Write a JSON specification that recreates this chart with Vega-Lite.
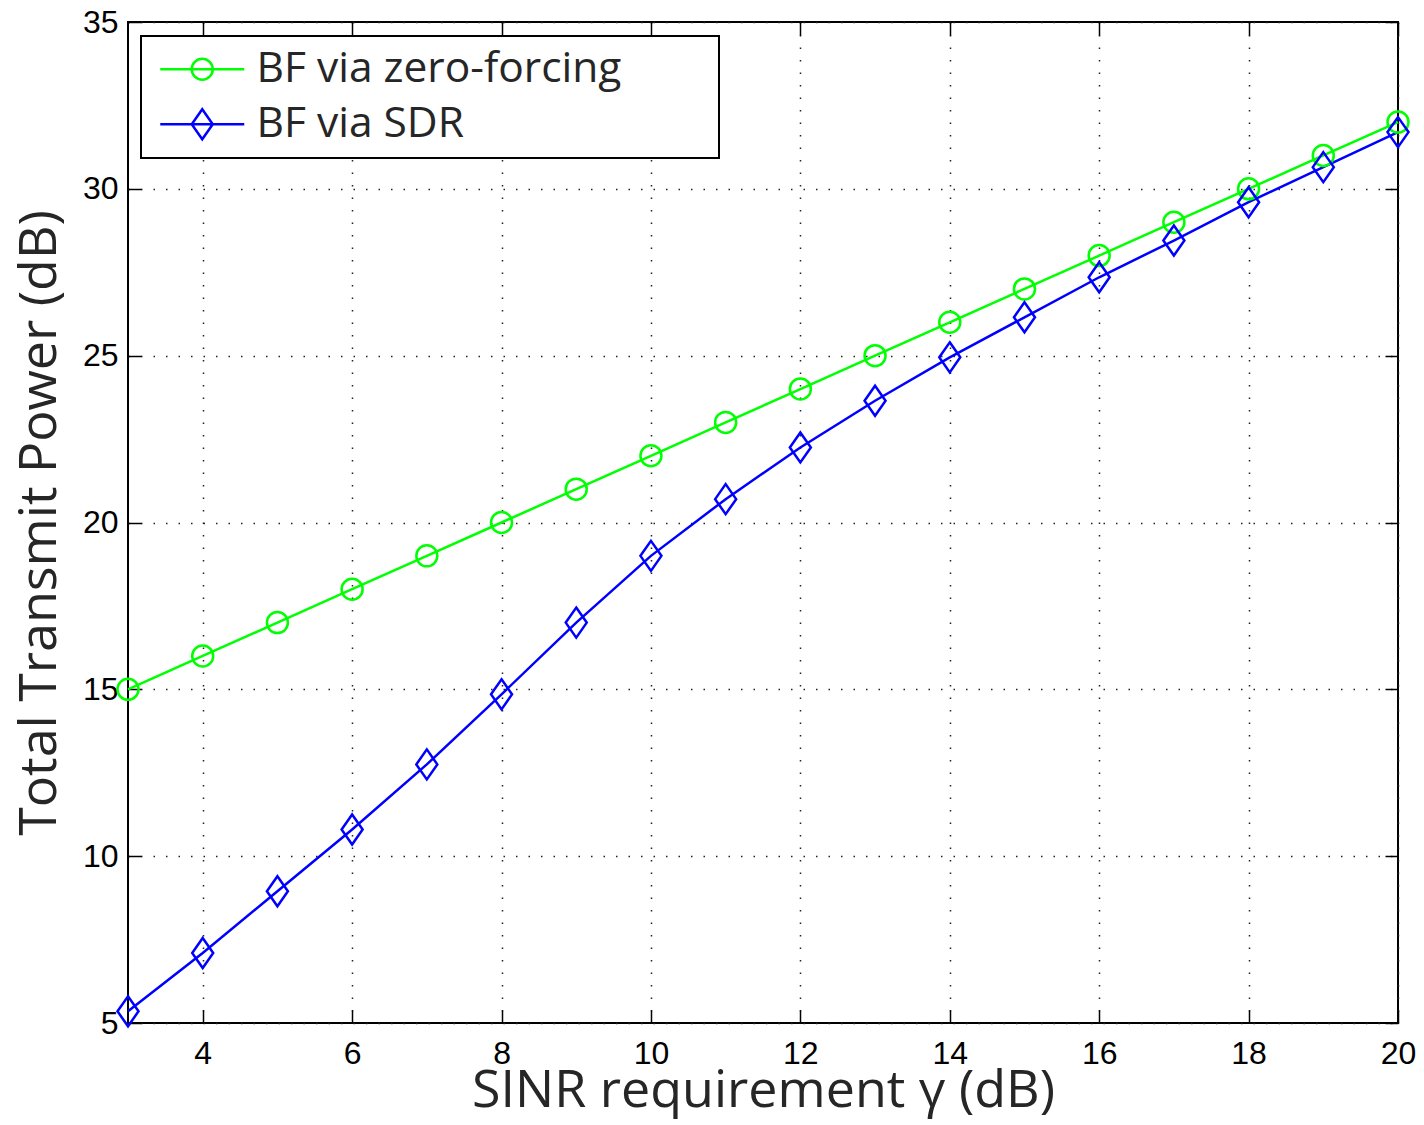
{
  "$schema": "https://vega.github.io/schema/vega-lite/v6.json",
  "width": 1270,
  "height": 1001,
  "autosize": {"type": "none"},
  "padding": {"left": 128, "top": 22, "right": 26, "bottom": 102},
  "background": "white",
  "config": {
    "view": {"stroke": "black", "strokeWidth": 2},
    "axis": {
      "domain": false,
      "labelFont": "Liberation Sans",
      "labelFontSize": 32,
      "labelColor": "black",
      "labelFlush": false,
      "titleFont": "Open Sans",
      "titleFontWeight": "normal",
      "titleFontSize": 52,
      "titleColor": "#262626",
      "tickColor": "black",
      "tickWidth": 1.5,
      "tickSize": -13,
      "gridColor": "#222222",
      "gridDash": [1.5, 11],
      "gridWidth": 1.5
    },
    "legend": {
      "orient": "none",
      "legendX": 13,
      "legendY": 14,
      "padding": 12,
      "strokeColor": "black",
      "strokeWidth": 2,
      "fillColor": "white",
      "cornerRadius": 0,
      "labelFont": "Open Sans",
      "labelFontSize": 42.5,
      "labelColor": "#262626",
      "labelLimit": 0,
      "symbolSize": 441,
      "symbolStrokeWidth": 2.5,
      "symbolOffset": 28,
      "labelOffset": 33,
      "rowPadding": 12
    }
  },
  "data": {
    "values": [
      {"gamma": 3, "power": 15, "series": "BF via zero-forcing"},
      {"gamma": 4, "power": 16, "series": "BF via zero-forcing"},
      {"gamma": 5, "power": 17, "series": "BF via zero-forcing"},
      {"gamma": 6, "power": 18, "series": "BF via zero-forcing"},
      {"gamma": 7, "power": 19, "series": "BF via zero-forcing"},
      {"gamma": 8, "power": 20, "series": "BF via zero-forcing"},
      {"gamma": 9, "power": 21, "series": "BF via zero-forcing"},
      {"gamma": 10, "power": 22, "series": "BF via zero-forcing"},
      {"gamma": 11, "power": 23, "series": "BF via zero-forcing"},
      {"gamma": 12, "power": 24, "series": "BF via zero-forcing"},
      {"gamma": 13, "power": 25, "series": "BF via zero-forcing"},
      {"gamma": 14, "power": 26, "series": "BF via zero-forcing"},
      {"gamma": 15, "power": 27, "series": "BF via zero-forcing"},
      {"gamma": 16, "power": 28, "series": "BF via zero-forcing"},
      {"gamma": 17, "power": 29, "series": "BF via zero-forcing"},
      {"gamma": 18, "power": 30, "series": "BF via zero-forcing"},
      {"gamma": 19, "power": 31, "series": "BF via zero-forcing"},
      {"gamma": 20, "power": 32, "series": "BF via zero-forcing"},
      {"gamma": 3, "power": 5.35, "series": "BF via SDR"},
      {"gamma": 4, "power": 7.1, "series": "BF via SDR"},
      {"gamma": 5, "power": 8.95, "series": "BF via SDR"},
      {"gamma": 6, "power": 10.8, "series": "BF via SDR"},
      {"gamma": 7, "power": 12.75, "series": "BF via SDR"},
      {"gamma": 8, "power": 14.85, "series": "BF via SDR"},
      {"gamma": 9, "power": 17.0, "series": "BF via SDR"},
      {"gamma": 10, "power": 19.0, "series": "BF via SDR"},
      {"gamma": 11, "power": 20.7, "series": "BF via SDR"},
      {"gamma": 12, "power": 22.25, "series": "BF via SDR"},
      {"gamma": 13, "power": 23.65, "series": "BF via SDR"},
      {"gamma": 14, "power": 24.95, "series": "BF via SDR"},
      {"gamma": 15, "power": 26.15, "series": "BF via SDR"},
      {"gamma": 16, "power": 27.35, "series": "BF via SDR"},
      {"gamma": 17, "power": 28.45, "series": "BF via SDR"},
      {"gamma": 18, "power": 29.6, "series": "BF via SDR"},
      {"gamma": 19, "power": 30.65, "series": "BF via SDR"},
      {"gamma": 20, "power": 31.7, "series": "BF via SDR"}
    ]
  },
  "layer": [
    {
      "mark": {"type": "line", "strokeWidth": 2.5},
      "encoding": {
        "x": {"field": "gamma", "type": "quantitative", "scale": {"domain": [3, 20], "nice": false, "zero": false},
              "axis": {"orient": "bottom", "values": [4, 6, 8, 10, 12, 14, 16, 18, 20], "grid": true, "labelPadding": 28, "title": "SINR requirement γ (dB)", "titlePadding": -4}},
        "y": {"field": "power", "type": "quantitative", "scale": {"domain": [5, 35], "nice": false, "zero": false},
              "axis": {"orient": "left", "values": [5, 10, 15, 20, 25, 30, 35], "grid": true, "labelPadding": 23, "title": "Total Transmit Power (dB)", "titlePadding": 16}},
        "color": {"field": "series", "type": "nominal", "scale": {"domain": ["BF via zero-forcing", "BF via SDR"], "range": ["#00FF00", "#0000FF"]}}
      }
    },
    {
      "transform": [{"filter": "datum.series === 'BF via zero-forcing'"}],
      "mark": {"type": "point", "shape": "circle", "strokeWidth": 2.5, "size": 441, "filled": false, "opacity": 1},
      "encoding": {
        "x": {"field": "gamma", "type": "quantitative", "axis": {"orient": "top", "values": [4, 6, 8, 10, 12, 14, 16, 18, 20], "labels": false, "grid": false, "title": null}},
        "y": {"field": "power", "type": "quantitative", "axis": {"orient": "right", "values": [5, 10, 15, 20, 25, 30, 35], "labels": false, "grid": false, "title": null}},
        "color": {"field": "series", "type": "nominal"}
      }
    },
    {
      "transform": [{"filter": "datum.series === 'BF via SDR'"}],
      "mark": {"type": "point", "shape": "M0,-1.43L1,0L0,1.43L-1,0Z", "strokeWidth": 2.5, "size": 441, "filled": false, "opacity": 1},
      "encoding": {
        "x": {"field": "gamma", "type": "quantitative", "axis": null},
        "y": {"field": "power", "type": "quantitative", "axis": null},
        "color": {"field": "series", "type": "nominal"}
      }
    },
    {
      "transform": [{"filter": "datum.gamma > 100"}],
      "mark": {"type": "point", "strokeWidth": 2.5, "size": 441, "filled": false, "opacity": 1},
      "encoding": {
        "x": {"field": "gamma", "type": "quantitative", "axis": null},
        "y": {"field": "power", "type": "quantitative", "axis": null},
        "color": {"field": "series", "type": "nominal", "legend": {"title": null, "labelExpr": "datum.label + '\u2003\u2003\u200b'"}},
        "shape": {"field": "series", "type": "nominal",
                  "scale": {"domain": ["BF via zero-forcing", "BF via SDR"], "range": ["M-4,0L4,0M1,0A1,1 0 1,1 -1,0A1,1 0 1,1 1,0", "M-4,0L4,0M0,-1.43L1,0L0,1.43L-1,0Z"]},
                  "legend": {"title": null, "labelExpr": "datum.label + '\u2003\u2003\u200b'"}}
      }
    }
  ],
  "resolve": {
    "axis": {"x": "independent", "y": "independent"}
  }
}
